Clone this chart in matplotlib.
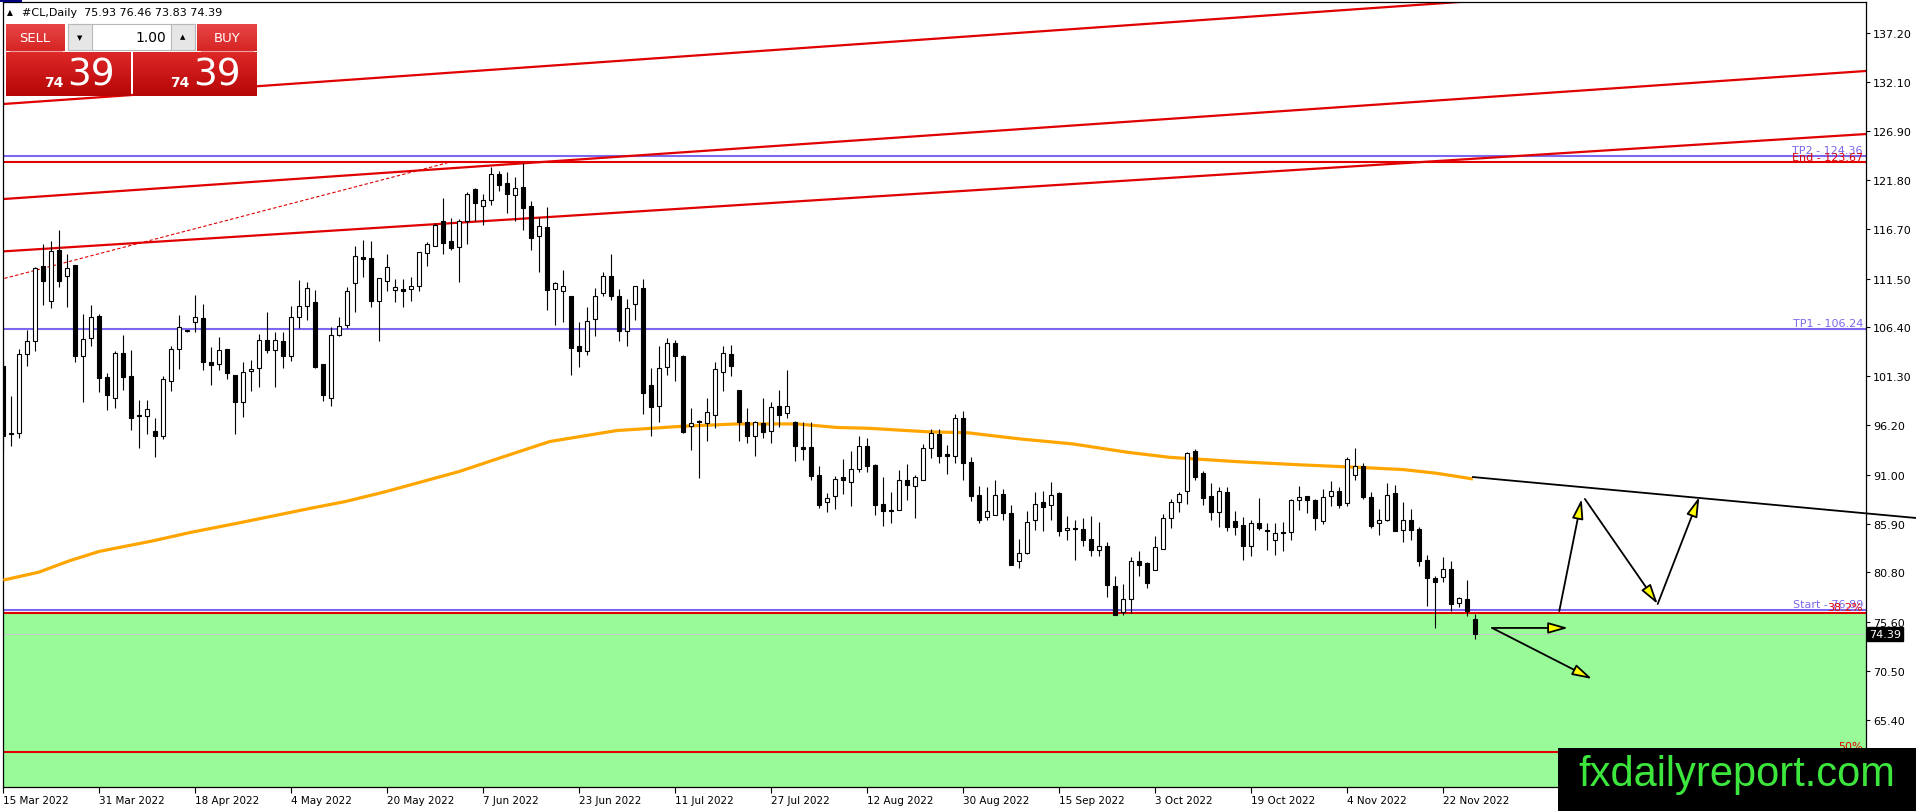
import matplotlib
matplotlib.use('Agg')
import matplotlib.pyplot as plt
import matplotlib.transforms as mtransforms
from matplotlib.patches import Rectangle
import numpy as np

# ---------------- data ----------------
opens = [102.4, 95.3, 95.35, 103.63, 105.02, 112.78, 109.2, 114.52, 111.74, 112.89,
         103.46, 105.34, 107.6, 101.2, 99.0, 103.77, 101.33, 97.23, 97.19, 95.56,
         95.1, 100.85, 104.12, 106.0, 107.0, 107.35, 102.8, 102.55, 104.12, 101.4,
         98.65, 101.82, 102.13, 105.13, 104.05, 104.99, 103.46, 107.53, 108.68, 109.02,
         102.59, 99.0, 105.58, 106.69, 111.01, 113.7, 113.65, 109.13, 111.22, 110.28,
         110.38, 110.38, 110.7, 114.14, 114.94, 117.48, 115.39, 114.77, 117.48, 120.86,
         119.05, 119.74, 122.39, 121.48, 120.23, 121.03, 119.05, 115.91, 116.85, 110.38,
         110.24, 109.65, 104.43, 103.98, 107.28, 110.0, 111.81, 109.65, 106.0, 108.82,
         110.49, 100.39, 98.24, 102.24, 104.74, 103.46, 96.15, 96.57, 96.39, 97.3,
         101.79, 103.6, 99.87, 96.5, 95.1, 96.39, 95.63, 98.17, 97.44, 96.57,
         93.89, 93.89, 91.0, 88.14, 88.84, 90.75, 90.23, 91.62, 94.06, 92.04,
         87.93, 87.3, 87.3, 90.44, 89.81, 90.51, 93.78, 95.27, 93.15, 92.94,
         96.94, 92.35, 88.9, 86.57, 86.85, 88.97, 86.99, 81.98, 82.82, 86.23,
         88.14, 87.83, 89.08, 85.22, 85.43, 85.32, 84.31, 83.1, 83.55, 79.37,
         76.66, 78.05, 81.98, 81.81, 81.01, 83.2, 86.47, 88.14, 89.35, 93.53,
         91.2, 88.76, 87.09, 89.25, 86.15, 85.77, 83.61, 85.94, 85.24, 84.24,
         85.0, 85.07, 88.38, 88.76, 88.38, 86.15, 88.76, 89.28, 88.03, 91.02,
         91.96, 88.66, 85.94, 86.32, 89.11, 85.28, 86.29, 85.35, 82.11, 80.2,
         80.3, 81.17, 77.63, 78.04, 75.93]
highs = [103.0, 99.2, 104.2, 106.17, 112.68, 115.11, 115.43, 116.58, 114.04, 112.9,
         107.8, 108.75, 107.8, 101.65, 103.94, 105.61, 104.05, 98.83, 98.83, 96.98,
         101.37, 104.5, 107.7, 106.1, 109.79, 108.85, 104.33, 105.4, 104.19, 101.44,
         102.83, 103.0, 105.72, 108.0, 105.89, 105.89, 108.6, 111.36, 111.11, 110.35,
         102.6, 106.41, 107.46, 110.59, 114.94, 115.53, 115.43, 111.6, 114.07, 111.46,
         111.46, 111.67, 114.3, 115.36, 117.27, 119.92, 117.8, 117.72, 120.51, 120.93,
         120.33, 123.19, 122.74, 122.67, 122.14, 123.54, 119.64, 117.9, 118.94, 111.18,
         112.43, 109.7, 107.0, 108.5, 110.49, 112.16, 114.07, 110.42, 109.37, 110.76,
         111.46, 102.13, 104.5, 105.3, 105.09, 103.53, 98.0, 96.74, 99.0, 102.76,
         104.5, 104.57, 99.87, 97.96, 96.67, 99.04, 98.58, 99.87, 101.96, 96.64,
         96.5, 96.57, 91.9, 89.12, 90.86, 92.67, 93.54, 95.03, 94.83, 92.14,
         90.75, 89.18, 91.48, 92.11, 90.99, 94.2, 95.8, 95.8, 94.13, 97.36,
         97.64, 92.84, 89.81, 89.78, 90.47, 89.53, 87.86, 84.31, 87.2, 89.18,
         89.29, 90.23, 89.18, 86.68, 86.33, 86.47, 86.75, 86.05, 83.96, 80.41,
         79.61, 82.4, 83.02, 81.88, 84.59, 86.92, 88.49, 89.25, 93.42, 93.7,
         91.37, 90.12, 89.7, 89.7, 87.26, 86.57, 86.32, 88.55, 85.94, 85.98,
         86.05, 88.48, 89.8, 88.83, 88.48, 89.53, 90.33, 89.7, 92.83, 93.81,
         92.2, 89.25, 87.44, 90.12, 89.98, 88.13, 87.44, 85.52, 82.67, 80.48,
         82.39, 81.97, 78.22, 80.03, 76.46]
lows = [93.5, 94.06, 94.8, 102.34, 103.98, 108.78, 108.4, 110.59, 108.57, 102.83,
        98.58, 104.5, 99.63, 97.82, 98.03, 99.91, 95.73, 93.85, 95.28, 92.91,
        94.76, 99.8, 102.06, 105.9, 105.96, 101.99, 100.43, 101.99, 101.02, 95.28,
        97.05, 99.8, 100.15, 103.73, 100.22, 102.13, 102.93, 106.31, 107.21, 102.13,
        98.76, 98.24, 105.54, 106.31, 108.05, 111.7, 108.5, 105.02, 110.17, 109.09,
        108.57, 109.16, 110.24, 112.85, 114.87, 114.07, 114.52, 111.18, 115.11, 117.55,
        117.1, 119.19, 120.68, 118.32, 117.55, 116.61, 114.52, 112.23, 108.26, 106.66,
        107.0, 101.47, 102.31, 103.53, 105.54, 109.65, 109.3, 105.02, 104.5, 107.21,
        97.37, 95.1, 96.57, 101.47, 100.85, 95.35, 93.64, 90.65, 94.58, 95.87,
        99.8, 101.37, 94.58, 94.3, 93.02, 94.83, 94.3, 96.04, 96.91, 92.42,
        92.6, 90.41, 87.52, 87.1, 87.38, 89.02, 87.73, 91.28, 91.28, 86.85,
        85.7, 85.95, 87.3, 88.42, 86.54, 90.51, 92.77, 92.25, 91.1, 92.25,
        90.51, 88.31, 85.98, 86.33, 86.85, 86.23, 81.53, 81.25, 82.75, 85.22,
        85.08, 86.23, 84.56, 84.24, 82.15, 83.55, 82.57, 82.5, 78.22, 76.31,
        76.38, 76.55, 80.41, 79.2, 81.01, 83.2, 85.43, 87.1, 87.96, 90.5,
        87.86, 86.32, 85.59, 85.18, 84.72, 82.15, 82.57, 85.28, 83.19, 82.64,
        83.09, 84.24, 87.37, 87.02, 85.28, 85.87, 87.79, 87.54, 87.79, 90.5,
        88.48, 85.42, 84.72, 86.15, 85.18, 84.03, 84.24, 81.45, 77.28, 75.01,
        79.85, 76.82, 77.17, 76.3, 73.83]
closes = [95.1, 95.4, 103.63, 104.95, 112.57, 111.29, 114.35, 111.22, 112.57, 103.46,
          105.16, 107.46, 101.16, 99.38, 103.77, 101.26, 96.98, 97.12, 97.89, 95.1,
          101.02, 104.15, 106.45, 106.02, 107.46, 102.76, 102.52, 104.01, 101.61, 98.65,
          101.72, 102.06, 105.13, 104.08, 105.06, 103.46, 107.53, 108.6, 110.49, 102.27,
          99.38, 105.61, 106.59, 110.17, 113.83, 113.6, 109.2, 111.53, 112.68, 110.59,
          110.24, 110.7, 114.24, 115.08, 117.13, 115.25, 114.73, 117.55, 120.33, 119.39,
          119.71, 122.42, 121.31, 120.37, 120.93, 118.87, 115.71, 116.96, 110.35, 111.04,
          110.76, 104.29, 103.98, 107.11, 109.72, 111.81, 109.65, 106.0, 108.4, 110.7,
          99.52, 98.13, 102.13, 104.74, 103.46, 95.52, 96.39, 96.53, 97.54, 102.06,
          103.7, 102.34, 96.57, 95.1, 96.5, 95.45, 98.13, 97.3, 98.24, 94.06,
          93.75, 90.93, 87.8, 88.56, 90.58, 90.51, 91.62, 93.99, 91.9, 87.9,
          87.17, 87.2, 90.44, 89.98, 90.75, 93.78, 95.38, 93.01, 93.01, 96.94,
          92.25, 88.84, 86.33, 87.2, 88.9, 86.99, 81.63, 82.82, 86.12, 88.0,
          87.62, 88.94, 85.08, 85.43, 85.29, 84.24, 83.1, 83.55, 79.44, 76.38,
          78.05, 81.98, 81.63, 79.72, 83.44, 86.47, 88.14, 89.01, 93.25, 90.81,
          88.59, 87.09, 89.28, 85.59, 85.59, 83.61, 85.94, 85.45, 85.14, 84.9,
          84.9, 88.38, 88.66, 88.38, 86.46, 88.66, 89.35, 87.89, 92.66, 91.96,
          88.73, 85.7, 86.29, 88.9, 85.18, 86.29, 85.28, 82.04, 80.2, 79.78,
          81.17, 77.52, 78.15, 76.72, 74.39]

date_labels = ['15 Mar 2022', '31 Mar 2022', '18 Apr 2022', '4 May 2022', '20 May 2022',
               '7 Jun 2022', '23 Jun 2022', '11 Jul 2022', '27 Jul 2022', '12 Aug 2022',
               '30 Aug 2022', '15 Sep 2022', '3 Oct 2022', '19 Oct 2022', '4 Nov 2022',
               '22 Nov 2022']
date_step = 12

# moving average (read at sample bars)
ma_idx = [0, 4.4, 8.2, 12, 18.7, 23.5, 29.3, 34, 38.8, 42.7, 47.5, 52.2, 57, 61.8,
          68.3, 76.7, 85, 91.7, 99.2, 104.2, 108.3, 115.5, 120.5, 127.1, 133.7, 140.5,
          145.8, 154.2, 162.5, 169.2, 175, 179.2, 183.7]
ma_vals = [80.0, 80.82, 82.0, 83.0, 84.1, 85.0, 85.95, 86.75, 87.57, 88.2, 89.18, 90.25,
           91.35, 92.69, 94.48, 95.63, 96.08, 96.32, 96.32, 95.95, 95.86, 95.5, 95.4,
           94.75, 94.23, 93.36, 92.83, 92.38, 92.03, 91.79, 91.55, 91.16, 90.57]

price_ticks = [137.20, 132.10, 126.90, 121.80, 116.70, 111.50, 106.40, 101.30, 96.20,
               91.00, 85.90, 80.80, 75.60, 70.50, 65.40]

tp2_level = 124.36
end_level = 123.67
tp1_level = 106.24
start_level = 76.89
fib382_level = 76.61
fib50_level = 62.07
last_price = 74.39
symbol_text = '#CL,Daily  75.93 76.46 73.83 74.39'

# drawn objects: (bar index, price) anchor pairs
chan_a = ((0, 129.75), (182, 140.41))
chan_b = ((0, 119.82), (232.8, 133.2))
chan_c = ((0, 114.35), (191.2, 124.42))
dash_line = ((-1, 111.28), (55.5, 123.6))
black_trend = ((183.7, 90.77), (239.1, 86.49))
arrows = [((186.1, 75.0), (195.6, 75.0)),
          ((186.1, 75.0), (198.6, 69.67)),
          ((194.5, 76.77), (197.3, 88.48)),
          ((197.7, 88.48), (206.8, 77.5)),
          ((206.8, 77.5), (212.0, 88.69))]

# ---------------- figure ----------------
W, H = 1916, 812
fig = plt.figure(figsize=(W / 100, H / 100), dpi=100)
fig.patch.set_facecolor('white')
ax = fig.add_axes([3 / W, (H - 788) / H, (1866 - 3) / W, (788 - 3) / H])
XMIN, XMAX = -0.04, 232.84
YMIN, YMAX = 58.38, 140.41
ax.set_xlim(XMIN, XMAX)
ax.set_ylim(YMIN, YMAX)

RED = '#E00000'
BLUE = '#7B68EE'

# green zone
ax.axhspan(YMIN - 5, fib382_level, color='#98FB98', zorder=0, lw=0)

# horizontal levels
ax.axhline(last_price, color='#C8C8C8', lw=0.7, zorder=1)
ax.axhline(tp2_level, color=BLUE, lw=1.5, zorder=2)
ax.axhline(end_level, color=RED, lw=1.5, zorder=2)
ax.axhline(tp1_level, color=BLUE, lw=1.5, zorder=2)
ax.axhline(start_level, color=BLUE, lw=1.5, zorder=2)
ax.axhline(fib382_level, color=RED, lw=1.5, zorder=2)
ax.axhline(fib50_level, color=RED, lw=1.5, zorder=2)

# channel lines (extended)
def ext_line(p, x0=-5, x1=245, **kw):
    (a, b), (c, d) = p
    s = (d - b) / (c - a)
    ax.plot([x0, x1], [b + s * (x0 - a), b + s * (x1 - a)], **kw)

for ch in (chan_a, chan_b, chan_c):
    ext_line(ch, color=RED, lw=1.6, zorder=2)
(dx0, dy0), (dx1, dy1) = dash_line
ax.plot([dx0, dx1], [dy0, dy1], color=RED, lw=0.8, ls=(0, (3, 2)), zorder=2)

# moving average
ax.plot(ma_idx, ma_vals, color='#FFA500', lw=2.3, zorder=3, solid_capstyle='butt',
        solid_joinstyle='round')

# candles
for i, (o, h, l, c) in enumerate(zip(opens, highs, lows, closes)):
    ax.plot([i, i], [l, h], color='black', lw=0.8, zorder=4, solid_capstyle='butt')
    bottom = min(o, c)
    height = max(abs(c - o), 0.12)
    fc = 'white' if c >= o else 'black'
    ax.add_patch(Rectangle((i - 0.26, bottom), 0.52, height, fc=fc, ec='black',
                           lw=0.8, zorder=5))

# level texts
tx = 232.45
ax.text(tx, tp2_level + 0.1, 'TP2 - 124.36', ha='right', va='bottom', color=BLUE, fontsize=8, zorder=6)
ax.text(tx, end_level + 0.05, 'End - 123.67', ha='right', va='bottom', color=RED, fontsize=8, zorder=6)
ax.text(tx, tp1_level + 0.1, 'TP1 - 106.24', ha='right', va='bottom', color=BLUE, fontsize=8, zorder=6)
ax.text(tx, start_level + 0.1, 'Start - 76.89', ha='right', va='bottom', color=BLUE, fontsize=8, zorder=6)
ax.text(tx, fib382_level + 0.05, '38.2%', ha='right', va='bottom', color=RED, fontsize=8, zorder=6)
ax.text(tx, fib50_level + 0.1, '50%', ha='right', va='bottom', color=RED, fontsize=8, zorder=6)

# black trend line extending past the axis
(bx0, by0), (bx1, by1) = black_trend
ax.plot([bx0, bx1], [by0, by1], color='black', lw=1.3, zorder=6, clip_on=False)

# arrows
for (s, e) in arrows:
    ax.annotate('', xy=e, xytext=s,
                arrowprops=dict(arrowstyle='-|>,head_length=0.6,head_width=0.17',
                                mutation_scale=20, fc='#FFFF00', ec='black', lw=1.3,
                                shrinkA=0, shrinkB=0), zorder=7)

# axes styling
for sp in ax.spines.values():
    sp.set_color('black')
    sp.set_linewidth(0.9)
ax.yaxis.tick_right()
ax.set_yticks(price_ticks)
ax.set_yticklabels(['%.2f' % v for v in price_ticks])
ax.tick_params(axis='y', direction='out', length=3, pad=2, labelsize=8, colors='black')
ax.set_xticks([k * date_step for k in range(len(date_labels))])
ax.set_xticklabels(date_labels, ha='left')
ax.tick_params(axis='x', direction='out', length=4, pad=2, labelsize=7.5, colors='black')

# current price box
trans = mtransforms.blended_transform_factory(ax.transAxes, ax.transData)
ax.text(1.0015, last_price, '74.39', transform=trans, ha='left', va='center', color='white',
        fontsize=8, zorder=10, clip_on=False,
        bbox=dict(boxstyle='square,pad=0.18', fc='black', ec='black'))

# ---------------- overlay (panel, watermark) ----------------
ov = fig.add_axes([0, 0, 1, 1], zorder=10)
ov.set_xlim(0, W)
ov.set_ylim(H, 0)
ov.axis('off')
ov.patch.set_alpha(0)
ov.set_autoscale_on(False)


def grad_box(x0, y0, x1, y1, ctop, cbot):
    g = np.linspace(0, 1, 64)[:, None, None]
    ct = np.array(ctop, dtype=float)[None, None, :] / 255
    cb = np.array(cbot, dtype=float)[None, None, :] / 255
    img = ct * (1 - g) + cb * g
    ov.imshow(img, extent=[x0, x1, y1, y0], aspect='auto', interpolation='bilinear', zorder=5)


ov.add_patch(Rectangle((0, 0), 22, 3, fc='#000080', ec='none', zorder=5))
ov.text(10, 13, '▲', ha='center', va='center', fontsize=5.5, color='black', zorder=6)
ov.text(22, 13, symbol_text, ha='left', va='center', fontsize=8, color='black', zorder=6)

# SELL / BUY small buttons
grad_box(6, 25, 65, 52, (232, 70, 70), (214, 36, 36))
grad_box(197, 25, 257, 52, (232, 70, 70), (214, 36, 36))
ov.plot([10, 62], [52, 52], color='#F0A0A0', lw=0.8, zorder=6)
ov.plot([201, 253], [52, 52], color='#F0A0A0', lw=0.8, zorder=6)
ov.text(35, 39, 'SELL', ha='center', va='center', fontsize=9.5, color='white', zorder=6)
ov.text(227, 39, 'BUY', ha='center', va='center', fontsize=9.5, color='white', zorder=6)

# quantity box
ov.add_patch(Rectangle((68, 25), 127, 26, fc='white', ec='#B8B8B8', lw=0.8, zorder=5))
ov.add_patch(Rectangle((68, 25), 24, 26, fc='#E6E6E6', ec='#B8B8B8', lw=0.8, zorder=5))
ov.add_patch(Rectangle((171, 25), 24, 26, fc='#E6E6E6', ec='#B8B8B8', lw=0.8, zorder=5))
ov.text(80, 38, '▼', ha='center', va='center', fontsize=5, color='black', zorder=6)
ov.text(183, 37, '▲', ha='center', va='center', fontsize=5, color='black', zorder=6)
ov.text(166, 38, '1.00', ha='right', va='center', fontsize=10, color='black', zorder=6)

# big price boxes
grad_box(6, 53, 131, 97, (222, 40, 40), (182, 6, 6))
grad_box(133, 53, 257, 97, (222, 40, 40), (182, 6, 6))
ov.text(64, 83, '74', ha='right', va='center', fontsize=10, fontweight='bold', color='white', zorder=6)
ov.text(67, 76, '39', ha='left', va='center', fontsize=27, color='white', zorder=6)
ov.text(190, 83, '74', ha='right', va='center', fontsize=10, fontweight='bold', color='white', zorder=6)
ov.text(193, 76, '39', ha='left', va='center', fontsize=27, color='white', zorder=6)

# watermark
ov.add_patch(Rectangle((1558, 749), W - 1558, H - 749, fc='black', ec='none', zorder=8))
ov.text(1737, 775, 'fxdailyreport.com', ha='center', va='center', fontsize=30,
        family='Liberation Sans', color='#3CE63C', zorder=9)

fig.savefig('out.png', dpi=100)
